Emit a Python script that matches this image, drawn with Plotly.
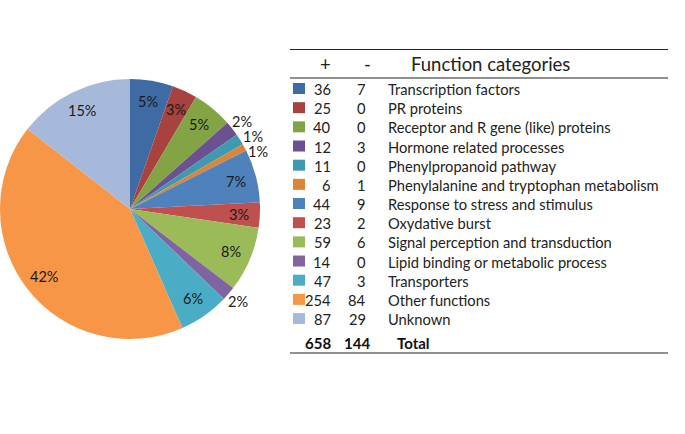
import math
import plotly.graph_objects as go

W, H = 685, 434

categories = [
    "Transcription factors", "PR proteins", "Receptor and R gene (like) proteins",
    "Hormone related processes", "Phenylpropanoid pathway",
    "Phenylalanine and tryptophan metabolism", "Response to stress and stimulus",
    "Oxydative burst", "Signal perception and transduction",
    "Lipid binding or metabolic process", "Transporters", "Other functions", "Unknown",
]
plus_counts = [36, 25, 40, 12, 11, 6, 44, 23, 59, 14, 47, 254, 87]
minus_counts = [7, 0, 0, 3, 0, 1, 9, 2, 6, 0, 3, 84, 29]
pct_labels = ["5%", "3%", "5%", "2%", "1%", "1%", "7%", "3%", "8%", "2%", "6%", "42%", "15%"]
total_plus = 658
total_minus = 144

colors = ["#3E6BA4", "#A8423F", "#82A445", "#6B5092", "#3D9AB0", "#DC8539",
          "#4F81BD", "#C0504D", "#9BBB59", "#8064A2", "#4BACC6", "#F79646", "#A7B9DA"]
label_outside = [False, False, False, True, True, True,
                 False, False, False, True, False, False, False]

values = [p + m for p, m in zip(plus_counts, minus_counts)]

FONT = "Lato, Open Sans, sans-serif"

# pie geometry (pixels): square domain -> radius = half side
PIE_X0, PIE_X1, PIE_Y0, PIE_Y1 = 0, 260, 79, 339
CX, CY = (PIE_X0 + PIE_X1) / 2, (PIE_Y0 + PIE_Y1) / 2
R = (PIE_X1 - PIE_X0) / 2

fig = go.Figure()
fig.add_trace(go.Pie(
    labels=categories, values=values, textinfo="none",
    sort=False, direction="clockwise", rotation=0,
    marker=dict(colors=colors, line=dict(width=0)),
    domain=dict(x=[PIE_X0 / W, PIE_X1 / W], y=[1 - PIE_Y1 / H, 1 - PIE_Y0 / H]),
    showlegend=False, hoverinfo="label+value+percent",
))


def px(x):
    return x / W


def py(y):
    return 1 - y / H


shapes = []
annotations = []

# percentage labels positioned from the slice angles
total = sum(values)
cum = 0
pie_font = dict(family=FONT, size=14.5, color="#1a1a1a")
prev_out_y = None
for v, lab, outside in zip(values, pct_labels, label_outside):
    mid = (cum + v / 2) / total * 2 * math.pi
    cum += v
    rf = 1.095 if outside else 0.84
    lx = CX + rf * R * math.sin(mid)
    ly = CY - rf * R * math.cos(mid)
    if outside:
        # keep consecutive outside labels from overlapping
        if prev_out_y is not None and 0 <= ly - prev_out_y < 15:
            ly = prev_out_y + 15
            lx += 3
        prev_out_y = ly
    annotations.append(dict(x=px(lx), y=py(ly), text=lab, showarrow=False,
                            xref="paper", yref="paper", xanchor="center", yanchor="middle",
                            borderpad=0, font=pie_font))

# table rules
for yy in (49.5, 78, 353):
    shapes.append(dict(type="line", xref="paper", yref="paper",
                       x0=px(290), x1=px(668), y0=py(yy), y1=py(yy),
                       line=dict(color="#222222", width=1.2)))

hdr_font = dict(family=FONT, size=18.5, color="#222222")
annotations.append(dict(x=px(325), y=py(64), text="+", showarrow=False,
                        xref="paper", yref="paper", xanchor="center", yanchor="middle", font=hdr_font))
annotations.append(dict(x=px(367), y=py(64), text="-", showarrow=False,
                        xref="paper", yref="paper", xanchor="center", yanchor="middle", font=hdr_font))
annotations.append(dict(x=px(490), y=py(64), text="Function categories", showarrow=False,
                        xref="paper", yref="paper", xanchor="center", yanchor="middle", font=hdr_font))

row_font = dict(family=FONT, size=14.7, color="#222222")
y0, dy = 89, 19.17
for i, (c, p, m, col) in enumerate(zip(categories, plus_counts, minus_counts, colors)):
    yy = y0 + i * dy
    shapes.append(dict(type="rect", xref="paper", yref="paper",
                       x0=px(293), x1=px(305), y0=py(yy + 5), y1=py(yy - 6),
                       fillcolor=col, line=dict(width=0)))
    annotations.append(dict(x=px(333), y=py(yy), text=str(p), showarrow=False,
                            xref="paper", yref="paper", xanchor="right", yanchor="middle", font=row_font))
    annotations.append(dict(x=px(368), y=py(yy), text=str(m), showarrow=False,
                            xref="paper", yref="paper", xanchor="right", yanchor="middle", font=row_font))
    annotations.append(dict(x=px(386), y=py(yy), text=c, showarrow=False,
                            xref="paper", yref="paper", xanchor="left", yanchor="middle", font=row_font))

tot_font = dict(family=FONT, size=15, color="#111111")
ty = 343
annotations.append(dict(x=px(333), y=py(ty), text="<b>%d</b>" % total_plus, showarrow=False,
                        xref="paper", yref="paper", xanchor="right", yanchor="middle", font=tot_font))
annotations.append(dict(x=px(372), y=py(ty), text="<b>%d</b>" % total_minus, showarrow=False,
                        xref="paper", yref="paper", xanchor="right", yanchor="middle", font=tot_font))
annotations.append(dict(x=px(395), y=py(ty), text="<b>Total</b>", showarrow=False,
                        xref="paper", yref="paper", xanchor="left", yanchor="middle", font=tot_font))

fig.update_layout(
    width=W, height=H, margin=dict(l=0, r=0, t=0, b=0),
    paper_bgcolor="white", plot_bgcolor="white",
    shapes=shapes, annotations=annotations,
)

fig.write_html("out.html", config={"displayModeBar": False},
               post_script="document.body.style.margin='0';document.body.style.overflow='hidden';")
